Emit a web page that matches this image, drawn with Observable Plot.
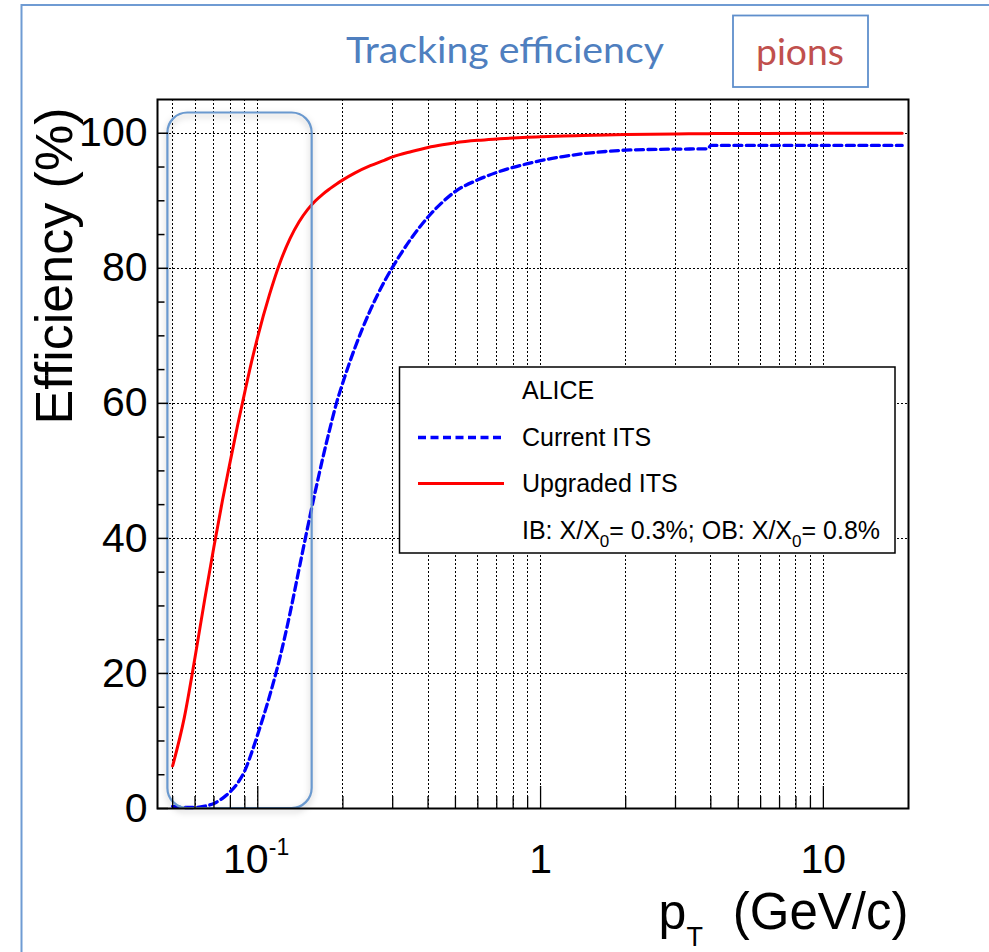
<!DOCTYPE html>
<html><head><meta charset="utf-8">
<script src="https://cdn.jsdelivr.net/npm/d3@7"></script>
<script src="https://cdn.jsdelivr.net/npm/@observablehq/plot@0.6"></script>
<style>
html,body{margin:0;padding:0;background:#fff;}
#chart{position:relative;width:989px;height:952px;overflow:hidden;}
</style>
</head><body><div id="chart"></div>
<script>
// ---- data ----
const pt = [0.05,0.055,0.06,0.065,0.07,0.075,0.08,0.085,0.09,0.095,
            0.1,0.11,0.12,0.13,0.14,0.15,0.16,0.17,0.18,0.19,
            0.2,0.22,0.25,0.28,0.3,0.35,0.4,0.45,0.5,0.6,
            0.7,0.8,0.9,1.0,1.2,1.4,1.7,2,3,3.9,
            4,6,10,19];
const effUpgraded = [6.3,13.5,22.4,31.1,38.8,45.6,51.5,56.9,61.7,66.1,
                     69.9,76.1,80.9,84.4,86.9,88.7,90.0,91.0,91.8,92.5,
                     93.1,94.1,95.2,96.0,96.5,97.3,97.9,98.3,98.6,98.95,
                     99.15,99.3,99.4,99.47,99.58,99.66,99.75,99.8,99.9,99.94,
                     99.95,99.98,100,100];
const effCurrent = [0.3,0.15,0.15,0.35,0.75,1.5,2.5,3.8,5.6,8.2,
                    11.0,16.6,22.5,28.9,35.5,41.6,47.1,52.0,56.3,60.1,
                    63.1,68.1,73.8,78.0,80.2,84.5,87.6,89.8,91.4,93.1,
                    94.2,94.95,95.5,95.95,96.55,96.95,97.3,97.5,97.65,97.7,
                    98.2,98.2,98.2,98.2];
const seriesNames = ["Current ITS", "Upgraded ITS"];
const seriesColors = ["#0000ff", "#ff0000"];

const xGridTicks = [0.05,0.06,0.07,0.08,0.09,0.1,0.2,0.3,0.4,0.5,0.6,0.7,0.8,0.9,1,2,3,4,5,6,7,8,9,10];
const xMajorTicks = [0.1, 1, 10];
const xMinorTicks = [0.05,0.06,0.07,0.08,0.09,0.2,0.3,0.4,0.5,0.6,0.7,0.8,0.9,2,3,4,5,6,7,8,9];
const xLabelValues = [1, 10];
const xLabelTexts = ["1", "10"];
const xPowerValue = [0.1];
const xPowerBase = "10";
const xPowerExp = "-1";
const yMajorTicks = [0,20,40,60,80,100];
const yMinorTicks = [5,10,15,25,30,35,45,50,55,65,70,75,85,90,95];
const yGridTicks = [20,40,60,80,100];
const highlight = [{x1: 0.0481, x2: 0.1557, y1: 0, y2: 103}];

const xTitleMain = "p", xTitleSub = "T", xTitleUnit = "(GeV/c)";
const yTitle = "Efficiency (%)";

// ---- layout ----
const W = 989, H = 952;
const mL = 157, mR = 81, mT = 99, mB = 144;
const frameW = W - mL - mR, frameH = H - mT - mB;
const FONT = "'Liberation Sans', Arial, Helvetica, sans-serif";

const currentRows = pt.map((x, i) => ({pt: x, eff: effCurrent[i]}));
const upgradedRows = pt.map((x, i) => ({pt: x, eff: effUpgraded[i]}));

const chart = Plot.plot({
  width: W, height: H,
  marginLeft: mL, marginRight: mR, marginTop: mT, marginBottom: mB,
  x: {type: "log", domain: [0.0442, 20], axis: null},
  y: {domain: [0, 105], axis: null},
  style: {fontFamily: FONT, background: "#fff", color: "#000", overflow: "visible"},
  marks: [
    Plot.ruleX(xGridTicks, {x: d => d, stroke: "#000", strokeWidth: 1, strokeDasharray: "1.5,2.5", shapeRendering: "crispEdges"}),
    Plot.ruleY(yGridTicks, {y: d => d, stroke: "#000", strokeWidth: 1, strokeDasharray: "1.5,2.5", shapeRendering: "crispEdges"}),
    Plot.line(currentRows, {x: "pt", y: "eff", stroke: seriesColors[0], strokeWidth: 3.3, strokeDasharray: "8,4.5", curve: "monotone-x"}),
    Plot.line(upgradedRows, {x: "pt", y: "eff", stroke: seriesColors[1], strokeWidth: 3, curve: "monotone-x"}),
    Plot.rect(highlight, {x1: "x1", x2: "x2", y1: "y1", y2: "y2", rx: 20, fill: "none", stroke: "#6a99cf", strokeWidth: 2.2, imageFilter: "drop-shadow(0px 3px 3px rgba(0,0,0,0.25))"}),
    Plot.frame({stroke: "#000", strokeWidth: 2}),
    Plot.tickX(xMinorTicks, {x: d => d, insetTop: frameH - 12, stroke: "#000", strokeWidth: 1.3}),
    Plot.tickX(xMajorTicks, {x: d => d, insetTop: frameH - 22, stroke: "#000", strokeWidth: 1.3}),
    Plot.tickY(yMinorTicks, {y: d => d, insetRight: frameW - 7.5, stroke: "#000", strokeWidth: 1.5}),
    Plot.tickY(yMajorTicks, {y: d => d, insetRight: frameW - 11, stroke: "#000", strokeWidth: 1.5}),
    Plot.text(yMajorTicks, {y: d => d, text: d => String(d), frameAnchor: "left", textAnchor: "end", lineAnchor: "middle", dx: -10, fontSize: 41}),
    Plot.text(xLabelValues, {x: d => d, text: (d, i) => xLabelTexts[i], frameAnchor: "bottom", textAnchor: "middle", lineAnchor: "bottom", dy: 64, fontSize: 41}),
    Plot.text(xPowerValue, {x: d => d, text: () => xPowerBase, frameAnchor: "bottom", textAnchor: "middle", lineAnchor: "bottom", dx: -12, dy: 64, fontSize: 41}),
    Plot.text(xPowerValue, {x: d => d, text: () => xPowerExp, frameAnchor: "bottom", textAnchor: "start", lineAnchor: "bottom", dx: 11, dy: 46, fontSize: 23}),
    Plot.text([yTitle], {text: d => d, frameAnchor: "top-left", rotate: -90, textAnchor: "end", lineAnchor: "bottom", dx: -86, dy: 8, fontSize: 52}),
    Plot.text([xTitleMain], {text: d => d, frameAnchor: "bottom-right", textAnchor: "start", lineAnchor: "bottom", dx: 658 - (W - mR), dy: 120, fontSize: 50}),
    Plot.text([xTitleSub], {text: d => d, frameAnchor: "bottom-right", textAnchor: "start", lineAnchor: "bottom", dx: 686 - (W - mR), dy: 137, fontSize: 27}),
    Plot.text([xTitleUnit], {text: d => d, frameAnchor: "bottom-right", textAnchor: "end", lineAnchor: "bottom", dx: 0, dy: 120, fontSize: 51})
  ]
});

const svg = d3.select(chart);

// slide decorations
const deco = svg.append("g").attr("text-anchor", "start");
deco.append("path").attr("d", `M21.5,${H} V5 H${W}`).attr("fill", "none").attr("stroke", "#6f9bd3").attr("stroke-width", 2);
deco.append("text").attr("x", 346).attr("y", 63).attr("font-family", "Lato, 'Open Sans', sans-serif")
  .attr("font-size", 36).attr("fill", "#4f7fbf").attr("textLength", 318).attr("lengthAdjust", "spacingAndGlyphs")
  .text("Tracking efficiency");
deco.append("rect").attr("x", 733).attr("y", 15.5).attr("width", 135).attr("height", 71.5)
  .attr("fill", "#fff").attr("stroke", "#5f8fcc").attr("stroke-width", 1.8);
deco.append("text").attr("x", 756).attr("y", 65).attr("font-family", "Lato, 'Open Sans', sans-serif")
  .attr("font-size", 36).attr("fill", "#c0504d").attr("textLength", 88).attr("lengthAdjust", "spacingAndGlyphs").text("pions");

// legend
const lg = svg.append("g").attr("text-anchor", "start").attr("font-family", FONT).attr("font-size", 25).attr("fill", "#000");
lg.append("rect").attr("x", 399.5).attr("y", 367).attr("width", 495.5).attr("height", 186)
  .attr("fill", "#fff").attr("stroke", "#000").attr("stroke-width", 1.5);
lg.append("text").attr("x", 522).attr("y", 399).text("ALICE");
lg.append("line").attr("x1", 418).attr("x2", 504).attr("y1", 437.5).attr("y2", 437.5)
  .attr("stroke", seriesColors[0]).attr("stroke-width", 3.3).attr("stroke-dasharray", "8,4.5");
lg.append("text").attr("x", 522).attr("y", 446).text(seriesNames[0]);
lg.append("line").attr("x1", 418).attr("x2", 504).attr("y1", 483.5).attr("y2", 483.5)
  .attr("stroke", seriesColors[1]).attr("stroke-width", 3);
lg.append("text").attr("x", 522).attr("y", 492).text(seriesNames[1]);
const ib = lg.append("text").attr("x", 522).attr("y", 539);
ib.append("tspan").text("IB: X/X");
ib.append("tspan").attr("font-size", 17).attr("dy", 8).text("0");
ib.append("tspan").attr("dy", -8).text("= 0.3%; OB: X/X");
ib.append("tspan").attr("font-size", 17).attr("dy", 8).text("0");
ib.append("tspan").attr("dy", -8).text("= 0.8%");

document.getElementById("chart").appendChild(chart);
</script>
</body></html>
